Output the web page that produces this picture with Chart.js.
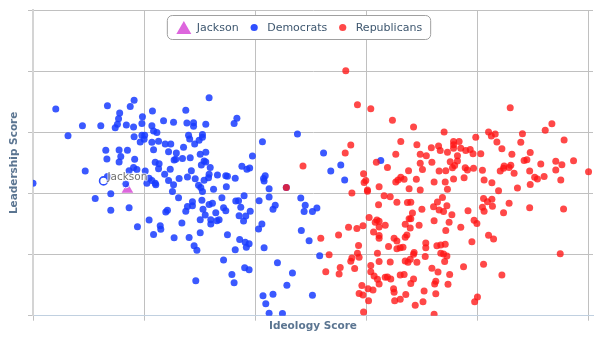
<!DOCTYPE html>
<html>
<head>
<meta charset="utf-8">
<script src="https://cdn.jsdelivr.net/npm/chart.js@4.4.1/dist/chart.umd.min.js"></script>
<style>
html,body{margin:0;padding:0;background:#fff}
#wrap{width:600px;height:340px;position:relative}
</style>
</head>
<body>
<div id="wrap"><canvas id="c"></canvas></div>
<script>
// ---------- data ----------
const xTitle = 'Ideology Score';
const yTitle = 'Leadership Score';
const seriesNames = ['Jackson', 'Democrats', 'Republicans'];
const xRange = [0, 100.8];
const yRange = [0, 100];
const tickStep = 20;

const jacksonPoints = [[17.0, 41.3]];
const jacksonLabel = 'Jackson';

const demHoverPoint = [12.7, 44.1];
const demSelectedPoint = [16.7, 43.1];

const demPoints = [
[4.1,67.6],[13.4,68.7],[18.2,70.5],[17.5,68.4],[15.6,66.3],[21.5,67.0],[15.4,64.4],[19.7,65.1],[8.9,62.1],[12.2,62.1],
[15.2,62.6],[14.8,61.5],[16.8,62.4],[18.1,61.7],[19.6,62.9],[21.4,62.1],[23.5,63.8],[25.3,63.3],[6.3,58.9],[18.2,58.5],
[19.6,59.0],[20.1,59.0],[20.0,57.7],[19.3,56.8],[21.7,60.4],[22.3,59.9],[21.4,56.7],[22.6,57.1],[23.8,56.2],[24.8,56.2],
[13.1,54.1],[15.5,54.2],[17.0,54.1],[21.7,54.3],[15.8,52.1],[13.3,51.3],[15.5,50.3],[18.3,51.2],[24.4,53.6],[25.4,50.9],
[22.0,50.2],[22.7,49.7],[22.6,48.1],[9.4,47.3],[17.3,47.4],[18.1,48.5],[18.7,47.8],[20.2,47.3],[24.7,47.9],[23.7,46.3],
[20.9,45.0],[21.4,44.2],[22.0,43.3],[24.4,44.2],[25.3,42.8],[20.5,43.3],[0,43.3],[13.4,45.5],
[31.7,71.3],[27.5,67.2],[27.7,63.0],[28.9,63.1],[28.9,62.0],[31.1,62.6],[36.7,64.6],[36.2,62.9],[47.6,59.4],[41.3,56.9],
[28.0,59.0],[28.2,57.8],[30.5,59.3],[30.5,58.4],[29.9,57.4],[29.1,56.2],[27.1,55.1],[25.8,53.2],[31.1,53.5],[30.1,52.8],
[25.7,51.2],[26.9,51.4],[28.3,51.7],[30.8,50.6],[31.1,50.3],[30.3,49.3],[31.9,48.5],[28.5,47.4],[39.5,52.2],[37.6,48.9],
[38.5,47.9],[39.0,48.3],[31.7,46.3],[33.2,46.0],[34.7,45.8],[35.0,45.6],[36.4,45.0],[26.3,44.9],[27.8,45.4],[29.2,44.8],
[30.8,44.3],[31.6,45.1],[29.8,42.7],[30.2,41.9],[32.5,41.4],[34.8,42.2],[41.8,45.8],[41.5,44.9],[41.6,44.1],[42.5,41.5],
[11.2,38.3],[14.0,39.9],[14.0,34.5],[17.3,35.3],[18.8,29.1],[20.9,31.3],[22.9,29.4],[23.0,28.3],[21.7,26.6],[23.9,33.9],
[24.2,34.5],[25.4,25.5],[25.1,40.6],[22.1,42.8],
[30.5,40.6],[26.2,38.6],[28.7,37.3],[27.8,35.7],[27.5,34.2],[28.7,36.0],[30.4,37.8],[30.6,34.8],[31.7,36.4],[32.3,36.8],
[34.0,38.6],[32.9,33.7],[34.3,35.3],[34.7,34.3],[36.5,37.5],[37.0,37.6],[38.0,39.2],[37.4,35.5],[39.1,34.2],[37.1,32.7],
[38.3,32.6],[37.9,31.0],[31.0,32.9],[30.1,31.4],[32.0,31.4],[32.0,30.0],[33.1,31.1],[33.5,31.4],[26.8,30.3],[30.1,27.1],
[28.1,25.6],[29.0,22.9],[29.5,21.4],[35.0,26.5],[37.2,24.9],[38.2,24.0],[38.9,23.5],[38.4,22.4],[36.4,21.6],[41.6,22.2],
[41.2,30.0],[40.6,28.4],[40.7,37.6],[42.5,38.8],[43.6,36.1],[43.2,34.8],[48.2,38.5],[49.0,36.1],[48.8,34.1],[50.3,34.1],
[51.1,35.2],[48.3,27.9],[49.7,24.5],[51.6,19.6],[34.3,18.2],[38.1,15.7],[38.9,15.0],[35.8,13.5],[36.2,10.8],[29.3,11.4],
[44.0,17.3],[46.7,14.0],[45.7,10.0],[43.2,7.0],[41.4,6.5],[41.9,3.9],[42.5,0.8],[44.9,0.7],[50.3,6.7],
[52.3,53.2],[55.4,49.3],[62.6,50.8],[53.6,47.3],[56.1,44.4],[45.6,41.9]
];

const repPoints = [
[56.3,80.1],[58.4,69.0],[60.8,67.7],[64.7,63.9],[68.5,61.7],[66.2,57.0],[69.1,55.9],[71.7,54.9],[73.0,55.5],[73.3,54.0],
[57.2,55.8],[56.2,53.2],[65.3,52.8],[69.7,52.8],[70.8,52.3],[48.6,49.0],[61.8,50.2],[63.8,48.5],[69.7,49.9],[71.8,50.2],
[70.1,47.8],[67.6,47.4],[73.1,47.3],[59.5,46.4],[59.9,44.2],[59.6,43.6],[62.3,42.2],[65.3,43.7],[65.7,44.4],[66.2,45.3],
[66.8,44.6],[69.0,44.6],[72.2,43.7],[67.7,41.5],[69.7,41.1],[60.2,41.1],
[85.9,68.0],[93.4,62.8],[92.2,60.7],[88.1,59.5],[82.0,60.1],[83.2,59.4],[82.5,58.8],[74.0,60.1],[79.7,58.4],[95.6,57.5],
[83.5,56.8],[87.8,56.7],[75.7,57.0],[76.7,57.0],[75.7,55.9],[75.7,54.8],[74.6,53.5],[77.0,54.8],[77.9,54.0],[78.7,54.4],
[79.2,53.0],[80.6,53.0],[84.4,54.6],[89.5,53.4],[86.2,52.8],[76.4,52.3],[75.1,50.4],[76.4,50.6],[75.9,49.1],[75.5,48.4],
[74.3,47.4],[77.8,48.4],[78.2,47.7],[79.3,48.2],[80.9,47.6],[88.4,50.8],[88.9,51.0],[91.4,49.6],[94.1,50.5],[95.2,49.4],
[97.3,50.7],[94.1,47.7],[100.0,47.1],[84.1,47.3],[84.8,49.0],[84.7,48.2],[86.0,49.2],[85.7,48.5],[86.6,46.6],[89.4,47.3],
[75.7,44.7],[77.6,45.1],[74.2,43.7],[81.2,44.4],[82.6,43.5],[90.3,45.3],[90.8,44.7],[92.0,45.5],[95.0,44.4],[89.5,42.9],
[87.2,41.8],[83.8,40.9],[74.6,41.4],
[57.4,40.1],[60.2,40.7],[63.2,39.2],[64.3,38.9],[65.5,37.1],[62.2,36.3],[67.4,37.0],[68.0,37.1],[70.0,34.8],[68.3,33.6],
[72.1,35.6],[72.8,37.2],[73.1,34.6],[60.5,32.1],[61.9,31.3],[61.6,30.6],[62.3,30.9],[63.4,29.6],[62.3,29.0],[61.3,27.4],
[62.3,26.2],[62.3,25.3],[59.4,29.4],[58.3,28.5],[56.8,28.9],[55.0,26.4],[51.8,25.3],[67.7,31.7],[68.0,31.7],[67.0,29.9],
[69.5,29.6],[67.9,28.7],[72.2,31.1],[67.3,26.4],[67.0,25.7],[65.0,25.3],[65.5,24.4],[65.5,21.9],[66.1,22.2],[66.6,22.4],
[64.0,22.6],[70.7,23.8],[70.7,22.2],[72.7,22.9],[58.6,23.0],[58.4,20.4],[62.0,20.4],[53.3,19.9],[58.7,19.1],[57.4,18.9],
[57.2,17.8],[57.9,15.4],[55.3,15.8],[55.1,13.6],[52.7,14.4],[60.8,16.4],[60.8,14.4],[62.3,17.7],[64.3,17.6],[67.0,17.9],
[67.5,17.5],[67.9,18.5],[68.6,20.7],[69.1,17.5],[68.5,20.1],[70.6,19.4],[71.8,15.5],[72.9,14.3],[61.4,13.0],[62.0,11.9],
[62.3,10.4],[63.4,12.6],[63.8,12.7],[64.4,12.0],[66.1,13.3],[66.8,13.5],[68.5,12.0],[68.0,10.5],[72.5,11.3],[72.3,10.4],
[59.2,9.9],[60.3,8.8],[61.2,8.4],[64.9,8.8],[65.0,7.7],[67.1,6.9],[70.4,8.1],[72.5,7.2],[58.7,7.3],[59.4,6.8],
[60.4,4.9],[65.1,4.9],[66.1,5.4],[70.2,4.6],[68.8,3.4],[59.5,1.2],[72.2,0.5],
[73.7,38.7],[74.5,36.0],[73.9,34.1],[75.4,33.0],[78.3,34.3],[74.9,30.6],[79.4,31.2],[79.9,30.2],[77.0,28.9],[74.3,27.9],
[81.1,38.3],[81.8,37.3],[82.6,38.1],[80.9,35.5],[81.2,34.2],[82.7,35.8],[84.7,33.7],[85.7,36.8],[89.4,35.3],[95.5,34.9],
[82.0,26.3],[82.9,25.1],[79.0,24.2],[74.2,23.4],[73.4,23.1],[73.9,20.2],[73.4,20.4],[74.5,19.5],[74.1,17.7],[77.5,16.0],
[81.1,16.8],[94.9,20.3],[84.4,13.3],[75.0,13.5],[74.7,10.3],[80.0,6.1],[79.5,4.6],
[45.6,41.9]
];

// ---------- styles ----------
const BLUE = 'rgba(25,60,255,0.85)';
const BLUE_SOLID = '#2f4fff';
const RED = 'rgba(255,20,20,0.78)';
const RED_SOLID = '#ff4848';
const PINK = '#dd66dd';
const GRID = '#c0c0c0';
const TITLE_COLOR = '#5b7591';
const LEGEND_COLOR = '#3E576F';
const FONT = '"DejaVu Sans", "Lucida Grande", sans-serif';

const toXY = arr => arr.map(p => ({x: p[0], y: p[1]}));
const demData = toXY(demPoints);
demData.push({x: demHoverPoint[0], y: demHoverPoint[1], kind: 'hover'});
demData.push({x: demSelectedPoint[0], y: demSelectedPoint[1], kind: 'selected'});

const kindOf = ctx => (ctx.raw && ctx.raw.kind) || '';

const legendPlugin = {
  id: 'boxLegend',
  afterDraw(chart) {
    const ctx = chart.ctx;
    ctx.save();
    ctx.font = '11px ' + FONT;
    const pad = 8.5, sym = 16, gap = 5, itemGap = 7.5;
    const items = chart.data.datasets.map(ds => ({label: ds.label, kind: ds.legendSymbol, color: ds.legendColor}));
    const widths = items.map(it => sym + gap + ctx.measureText(it.label).width);
    const total = pad * 2 + widths.reduce((a, b) => a + b, 0) + itemGap * (items.length - 1);
    const left = 299 - total / 2, top = 15.5, h = 24;
    // box
    ctx.beginPath();
    ctx.roundRect(left, top, total, h, 5);
    ctx.fillStyle = '#ffffff';
    ctx.fill();
    ctx.lineWidth = 1;
    ctx.strokeStyle = '#a0a0a0';
    ctx.stroke();
    let x = left + pad;
    const cy = top + h / 2;
    items.forEach((it, i) => {
      const sc = x + sym / 2;
      ctx.fillStyle = it.color;
      if (it.kind === 'triangle') {
        ctx.beginPath();
        ctx.moveTo(sc, cy - 6.5);
        ctx.lineTo(sc + 7.5, cy + 6.5);
        ctx.lineTo(sc - 7.5, cy + 6.5);
        ctx.closePath();
        ctx.fill();
      } else {
        ctx.beginPath();
        ctx.arc(sc, cy, 3.6, 0, Math.PI * 2);
        ctx.fill();
      }
      ctx.fillStyle = LEGEND_COLOR;
      ctx.textBaseline = 'middle';
      ctx.textAlign = 'left';
      ctx.fillText(it.label, x + sym + gap, cy + 0.5);
      x += widths[i] + itemGap;
    });
    ctx.restore();
  }
};

const labelPlugin = {
  id: 'jacksonLabel',
  afterDatasetsDraw(chart) {
    const meta = chart.getDatasetMeta(0);
    const el = meta.data[0];
    if (!el) return;
    const ctx = chart.ctx;
    ctx.save();
    ctx.font = '10.5px ' + FONT;
    ctx.textAlign = 'center';
    ctx.textBaseline = 'middle';
    ctx.lineJoin = 'round';
    ctx.strokeStyle = 'rgba(255,255,255,0.55)';
    ctx.lineWidth = 2.5;
    ctx.strokeText(jacksonLabel, el.x, el.y - 12.6);
    ctx.fillStyle = '#707070';
    ctx.fillText(jacksonLabel, el.x, el.y - 12.6);
    ctx.restore();
  }
};

new Chart(document.getElementById('c'), {
  type: 'scatter',
  data: {
    datasets: [
      {
        label: seriesNames[0],
        data: toXY(jacksonPoints),
        pointStyle: 'triangle',
        pointRadius: 6.7,
        pointBackgroundColor: PINK,
        pointBorderWidth: 0,
        legendSymbol: 'triangle',
        legendColor: PINK,
        order: 2
      },
      {
        label: seriesNames[1],
        data: demData,
        pointRadius: ctx => kindOf(ctx) ? 4 : 3.5,
        pointBackgroundColor: ctx => kindOf(ctx) === 'hover' ? '#ffffff' : BLUE,
        pointBorderColor: ctx => kindOf(ctx) === 'hover' ? BLUE_SOLID : '#ffffff',
        pointBorderWidth: ctx => kindOf(ctx) === 'hover' ? 1.6 : (kindOf(ctx) === 'selected' ? 1 : 0),
        legendSymbol: 'circle',
        legendColor: BLUE_SOLID,
        order: 1
      },
      {
        label: seriesNames[2],
        data: toXY(repPoints),
        pointRadius: 3.5,
        pointBackgroundColor: RED,
        pointBorderWidth: 0,
        legendSymbol: 'circle',
        legendColor: RED_SOLID,
        order: 0
      }
    ]
  },
  options: {
    responsive: true,
    maintainAspectRatio: false,
    animation: false,
    events: [],
    layout: {padding: {top: 10, right: 7, left: 0, bottom: 0}, autoPadding: false},
    plugins: {legend: {display: false}, tooltip: {enabled: false}},
    scales: {
      x: {
        type: 'linear', position: 'bottom', min: xRange[0], max: xRange[1],
        ticks: {display: false, stepSize: tickStep, includeBounds: false},
        grid: {color: GRID, lineWidth: 1, tickLength: 5, drawTicks: true},
        border: {display: true, color: '#C0D0E0', width: 1},
        title: {display: true, text: xTitle, color: TITLE_COLOR,
          font: {family: FONT, size: 10.5, weight: 'bold', lineHeight: 1},
          padding: {top: 0.75, bottom: 8.05}}
      },
      y: {
        type: 'linear', position: 'left', min: yRange[0], max: yRange[1],
        ticks: {display: false, stepSize: tickStep},
        grid: {color: GRID, lineWidth: 1, tickLength: 5, drawTicks: true},
        border: {display: true, color: '#d4d4d4', width: 2},
        title: {display: true, text: yTitle, color: TITLE_COLOR,
          font: {family: FONT, size: 10.5, weight: 'bold', lineHeight: 1},
          padding: {top: 9.25, bottom: 8.25}}
      }
    }
  },
  plugins: [labelPlugin, legendPlugin]
});
</script>
</body>
</html>
